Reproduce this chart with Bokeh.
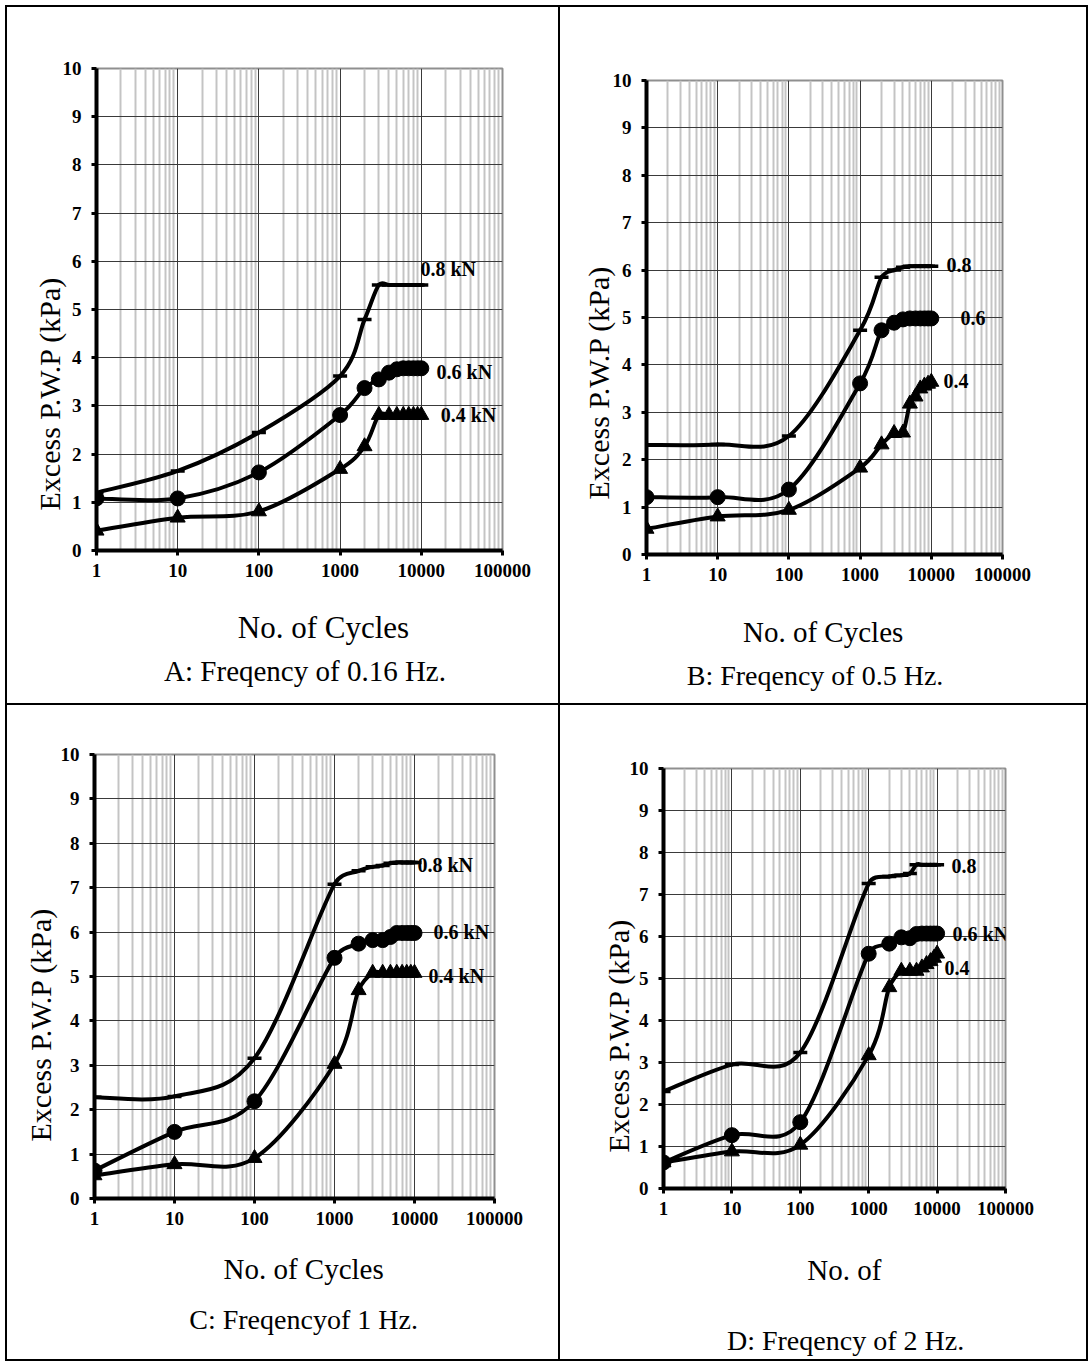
import math
from bokeh.plotting import figure
from bokeh.layouts import column, row
from bokeh.models import Range1d, FixedTicker, PrintfTickFormatter, Label, Title, Spacer
from bokeh.embed import file_html
from bokeh.resources import INLINE

# ---------------- data ----------------
cycles = [1, 10, 100, 1000, 2000, 3000, 4000, 5000, 6000, 7000, 8000, 9000, 10000]

a_08 = [1.20, 1.65, 2.45, 3.62, 4.79, 5.51, 5.51, 5.51, 5.51, 5.51, 5.51, 5.51, 5.51]
a_06 = [1.08, 1.08, 1.62, 2.81, 3.37, 3.55, 3.69, 3.76, 3.78, 3.78, 3.78, 3.78, 3.78]
a_04 = [0.41, 0.68, 0.81, 1.69, 2.16, 2.81, 2.81, 2.81, 2.81, 2.81, 2.81, 2.81, 2.81]

b_08 = [2.31, 2.32, 2.50, 4.73, 5.85, 6.00, 6.06, 6.08, 6.08, 6.08, 6.08, 6.08, 6.08]
b_06 = [1.21, 1.21, 1.37, 3.61, 4.73, 4.89, 4.96, 4.98, 4.98, 4.98, 4.98, 4.98, 4.98]
b_04 = [0.54, 0.80, 0.94, 1.83, 2.32, 2.56, 2.57, 3.18, 3.33, 3.50, 3.56, 3.60, 3.64]

c_08 = [2.28, 2.30, 3.16, 7.08, 7.38, 7.47, 7.50, 7.55, 7.57, 7.57, 7.57, 7.57, 7.57]
c_06 = [0.63, 1.50, 2.19, 5.42, 5.74, 5.82, 5.82, 5.89, 5.98, 5.98, 5.98, 5.98, 5.98]
c_04 = [0.52, 0.77, 0.91, 3.03, 4.69, 5.08, 5.08, 5.08, 5.08, 5.08, 5.08, 5.08, 5.08]

d_08 = [2.31, 2.95, 3.24, 7.26, 7.43, 7.46, 7.50, 7.71, 7.71, 7.71, 7.71, 7.71, 7.71]
d_06 = [0.62, 1.27, 1.58, 5.59, 5.83, 5.98, 5.96, 6.06, 6.07, 6.07, 6.07, 6.07, 6.07]
d_04 = [0.62, 0.88, 1.04, 3.17, 4.79, 5.18, 5.18, 5.18, 5.26, 5.34, 5.41, 5.49, 5.59]

x_ticks = [1, 10, 100, 1000, 10000, 100000]
y_ticks = [0, 1, 2, 3, 4, 5, 6, 7, 8, 9, 10]

a_names = ["0.8 kN", "0.6 kN", "0.4 kN"]
b_names = ["0.8", "0.6", "0.4"]
c_names = ["0.8 kN", "0.6 kN", "0.4 kN"]
d_names = ["0.8", "0.6 kN", "0.4"]

y_title = "Excess P.W.P (kPa)"
x_titles = ["No. of Cycles", "No. of Cycles", "No. of Cycles", "No. of"]
captions = ["A: Freqency of 0.16 Hz.", "B: Freqency of 0.5 Hz.",
            "C: Freqencyof 1 Hz.", "D: Freqency of 2 Hz."]

# ---------------- layout / style ----------------
SERIF = "Liberation Serif"
MARKERS = ["dash", "circle", "triangle"]
MSIZE = {"dash": 14, "circle": 15, "triangle": 15}

ROW_H = [696, 654]
COL_W = [551, 526]

# plot geometry inside each cell (cell-local pixels)
GEO = {
    "A": dict(cw=551, fl=89, ft=61, fw=406, fh=482, th=117),
    "B": dict(cw=526, fl=86, ft=73, fw=356, fh=474, th=113),
    "C": dict(cw=551, fl=87, ft=49, fw=400, fh=444, th=125),
    "D": dict(cw=526, fl=103, ft=63, fw=342, fh=420, th=135),
}
# y-title: (offset from frame bottom, standoff)
YT = {"A": (40, -12), "B": (55, -10), "C": (57, 2), "D": (36, -16)}
# text strip below each plot: x-title centre, caption centre, font sizes
TXT = {
    "A": dict(xt=(308, 41), cap=(283, 84), fs=("31px", "29px")),
    "B": dict(xt=(261, 41), cap=(249, 85), fs=("29px", "28px")),
    "C": dict(xt=(288, 34), cap=(288, 85), fs=("29px", "28px")),
    "D": dict(xt=(278, 45), cap=(280, 116), fs=("29px", "28px")),
}
# series label anchors (data units: cycles, kPa)
LAB = {
    "A": [(9770, 5.83), (15400, 3.71), (17300, 2.82)],
    "B": [(16300, 6.10), (25700, 5.00), (14800, 3.65)],
    "C": [(10900, 7.52), (17300, 6.01), (15000, 5.02)],
    "D": [(16200, 7.69), (16800, 6.07), (12800, 5.26)],
}


def smooth_segments(xs, ys, g):
    """Excel-like smoothed line: Catmull-Rom Bezier control arms (screen space),
    each arm capped at half of the adjacent chord."""
    kx = g["fw"] / 5.0
    ky = g["fh"] / 10.0
    P = [(math.log10(x) * kx, y * ky) for x, y in zip(xs, ys)]
    n = len(P)
    after, before = [None] * n, [None] * n
    for i in range(n):
        pp = P[max(i - 1, 0)]
        pn = P[min(i + 1, n - 1)]
        tx, ty = (pn[0] - pp[0]) / 6.0, (pn[1] - pp[1]) / 6.0
        tl = math.hypot(tx, ty)
        dp = math.hypot(P[i][0] - pp[0], P[i][1] - pp[1])
        dn = math.hypot(pn[0] - P[i][0], pn[1] - P[i][1])
        fa = min(1.0, 0.5 * dn / tl) if tl > 0 else 0.0
        fb = min(1.0, 0.5 * dp / tl) if tl > 0 else 0.0
        after[i] = (P[i][0] + tx * fa, P[i][1] + ty * fa)
        before[i] = (P[i][0] - tx * fb, P[i][1] - ty * fb)
    out = dict(x0=[], y0=[], x1=[], y1=[], cx0=[], cy0=[], cx1=[], cy1=[])
    for i in range(n - 1):
        out["x0"].append(xs[i]); out["y0"].append(ys[i])
        out["x1"].append(xs[i + 1]); out["y1"].append(ys[i + 1])
        out["cx0"].append(10 ** (after[i][0] / kx)); out["cy0"].append(after[i][1] / ky)
        out["cx1"].append(10 ** (before[i + 1][0] / kx)); out["cy1"].append(before[i + 1][1] / ky)
    return out


def make_plot(key, series, names):
    g = GEO[key]
    p = figure(x_axis_type="log", x_range=Range1d(1, 100000), y_range=Range1d(0, 10),
               frame_width=g["fw"], frame_height=g["fh"],
               min_border_left=g["fl"], min_border_top=g["ft"],
               min_border_right=g["cw"] - g["fl"] - g["fw"], min_border_bottom=36,
               toolbar_location=None, output_backend="svg",
               background_fill_color="white", border_fill_color="white")
    p.outline_line_color = "#8f8f8f"
    p.outline_line_width = 2

    p.xaxis.ticker = FixedTicker(ticks=x_ticks,
                                 minor_ticks=[m * 10 ** d for d in range(5) for m in range(2, 10)])
    p.xaxis.formatter = PrintfTickFormatter(format="%d")
    p.yaxis.ticker = FixedTicker(ticks=y_ticks)
    for ax in (p.xaxis, p.yaxis):
        ax.axis_line_color = "black"
        ax.axis_line_width = 4
        ax.major_tick_line_color = "black"
        ax.major_tick_line_width = 3
        ax.major_tick_out = 5
        ax.major_tick_in = 0
        ax.minor_tick_line_color = None
        ax.major_label_text_font = SERIF
        ax.major_label_text_font_style = "bold"
        ax.major_label_text_font_size = "19px"
        ax.major_label_text_color = "black"
    p.xaxis.major_label_standoff = 8
    p.yaxis.major_label_standoff = 10

    p.xgrid.grid_line_color = "#3a3a3a"
    p.xgrid.grid_line_width = 1
    p.xgrid.minor_grid_line_color = "#c4c4c4"
    p.xgrid.minor_grid_line_width = 2
    p.ygrid.grid_line_color = "#3a3a3a"
    p.ygrid.grid_line_width = 1

    for ys, mk in zip(series, MARKERS):
        seg = smooth_segments(cycles, ys, g)
        p.bezier(line_color="black", line_width=4, line_cap="round", **seg)
        if mk == "dash":
            p.scatter(cycles, ys, marker="dash", size=MSIZE[mk], line_color="black", line_width=3.5)
        else:
            p.scatter(cycles, ys, marker=mk, size=MSIZE[mk], line_color="black",
                      fill_color="black", line_width=1)

    for (lx, ly), name in zip(LAB[key], names):
        p.add_layout(Label(x=lx, y=ly, text=name, text_font=SERIF, text_font_style="bold",
                           text_font_size="20px", text_color="black",
                           text_align="left", text_baseline="middle"))

    off, st = YT[key]
    p.add_layout(Title(text=y_title, align="left", offset=off, standoff=st,
                       vertical_align="bottom", text_font=SERIF, text_font_size="30px",
                       text_font_style="normal", text_color="black"), "left")
    return p


def text_strip(key, w, xtitle, caption):
    h = GEO[key]["th"]
    f = figure(width=w, height=h, x_range=Range1d(0, w), y_range=Range1d(0, h),
               min_border=0, x_axis_location=None, y_axis_location=None,
               toolbar_location=None, output_backend="svg", outline_line_color=None,
               background_fill_color="white", border_fill_color="white")
    f.grid.visible = False
    t = TXT[key]
    for (cx, cy), txt, size in ((t["xt"], xtitle, t["fs"][0]), (t["cap"], caption, t["fs"][1])):
        f.add_layout(Label(x=cx, y=h - cy, text=txt, text_font=SERIF, text_font_size=size,
                           text_color="black", text_align="center", text_baseline="middle"))
    return f


def bar(w, h):
    return Spacer(width=w, height=h, styles={"background-color": "black"})


def cell(key, series, names, xtitle, caption):
    g = GEO[key]
    return column(make_plot(key, series, names), text_strip(key, g["cw"], xtitle, caption),
                  spacing=0)


cA = cell("A", [a_08, a_06, a_04], a_names, x_titles[0], captions[0])
cB = cell("B", [b_08, b_06, b_04], b_names, x_titles[1], captions[1])
cC = cell("C", [c_08, c_06, c_04], c_names, x_titles[2], captions[2])
cD = cell("D", [d_08, d_06, d_04], d_names, x_titles[3], captions[3])

full_w = 2 + COL_W[0] + 2 + COL_W[1] + 2
layout = column(
    Spacer(width=full_w + 5, height=5),
    row(Spacer(width=5, height=2), bar(full_w, 2), spacing=0),
    row(Spacer(width=5, height=ROW_H[0]), bar(2, ROW_H[0]), cA, bar(2, ROW_H[0]), cB,
        bar(2, ROW_H[0]), spacing=0),
    row(Spacer(width=5, height=2), bar(full_w, 2), spacing=0),
    row(Spacer(width=5, height=ROW_H[1]), bar(2, ROW_H[1]), cC, bar(2, ROW_H[1]), cD,
        bar(2, ROW_H[1]), spacing=0),
    row(Spacer(width=5, height=2), bar(full_w, 2), spacing=0),
    spacing=0,
)
open("out.html", "w").write(file_html(layout, INLINE))
